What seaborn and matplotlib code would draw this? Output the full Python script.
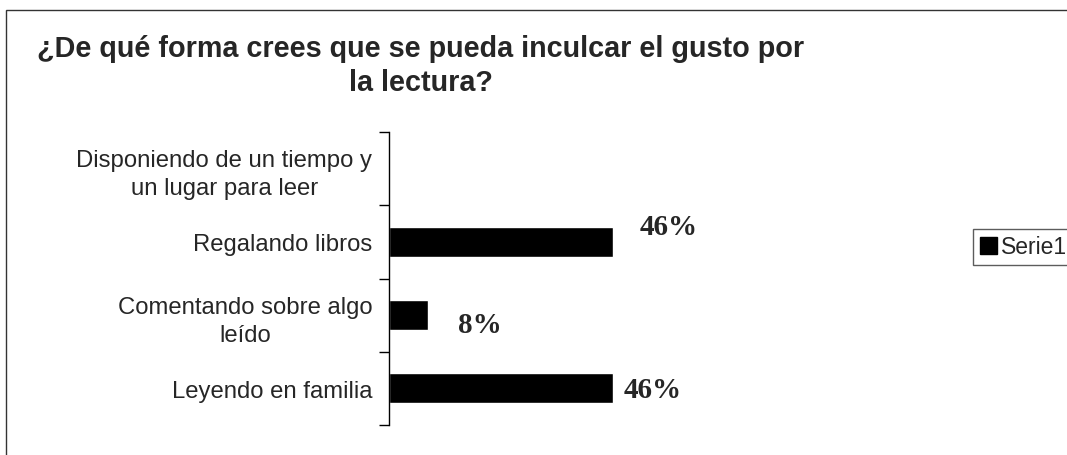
import numpy as np
import pandas as pd
import matplotlib
matplotlib.use("Agg")
import matplotlib.pyplot as plt
from matplotlib.patches import Patch, Rectangle
import seaborn as sns

# data
categories = ["Disponiendo de un tiempo y\nun lugar para leer",
              "Regalando libros",
              "Comentando sobre algo\nleído",
              "Leyendo en familia"]
values = [0.0, 0.46, 0.08, 0.46]
value_labels = ["", "46%", "8%", "46%"]
series_name = "Serie1"
title = "¿De qué forma crees que se pueda inculcar el gusto por\nla lectura?"

sns.set_style("white")
plt.rcParams['font.family'] = ['Liberation Sans', 'DejaVu Sans']

df = pd.DataFrame({"cat": categories, "val": values})

fig = plt.figure(figsize=(10.67, 4.56), dpi=100)
W, H = 1067, 456

# outer chart border (right/bottom edges are outside the image)
fig.patches.append(Rectangle((6 / W, -0.1), 1.2, 1 - 11 / H + 0.1,
                             transform=fig.transFigure, fill=False,
                             edgecolor="#333333", linewidth=1.0))

ax = fig.add_axes([389 / W, 1 - 426 / H, 487 / W, (426 - 133) / H])
sns.barplot(data=df, x="val", y="cat", color="black", orient="h",
            width=0.41, ax=ax, saturation=1)
ax.set_xlim(0, 1)
ax.set_ylim(3.5, -0.5)
ax.set_xlabel("")
ax.set_ylabel("")
ax.set_xticks([])
for s in ["top", "right", "bottom"]:
    ax.spines[s].set_visible(False)
ax.spines["left"].set_color("black")
ax.spines["left"].set_linewidth(1.0)

# category labels at centres, tick marks at boundaries
ax.set_yticks(range(len(categories)))
ax.set_yticklabels(categories, fontsize=17.2, multialignment="center",
                   linespacing=1.35)
ax.tick_params(axis="y", which="major", left=True, length=0, pad=12)
ax.set_yticks(np.arange(-0.5, len(categories)), minor=True)
ax.tick_params(axis="y", which="minor", left=True, length=7, width=1,
               color="black", direction="out")

# data labels (Excel-like offsets)
offsets = [(0, 0), (27, 15), (30, -9), (11, -1)]
for i, (v, lab) in enumerate(zip(values, value_labels)):
    if not lab:
        continue
    ax.annotate(lab, xy=(v, i), xytext=offsets[i], textcoords="offset pixels",
                ha="left", va="center", fontsize=21, fontweight="bold",
                family="Liberation Serif", clip_on=False)

fig.text(421 / W, 1 - 66 / H, title, ha="center", va="center",
         fontsize=20.7, fontweight="bold", linespacing=1.3)

leg = fig.legend(handles=[Patch(facecolor="black", edgecolor="black")],
                 labels=[series_name], loc="center left",
                 bbox_to_anchor=(973 / W, 1 - 248 / H), fontsize=16.5,
                 frameon=True, fancybox=False, handlelength=0.75,
                 handleheight=0.75, handletextpad=0.15, borderpad=0.3,
                 borderaxespad=0)
leg.get_frame().set_edgecolor("#333333")
leg.get_frame().set_linewidth(1.0)

fig.savefig("out.png", dpi=100)
